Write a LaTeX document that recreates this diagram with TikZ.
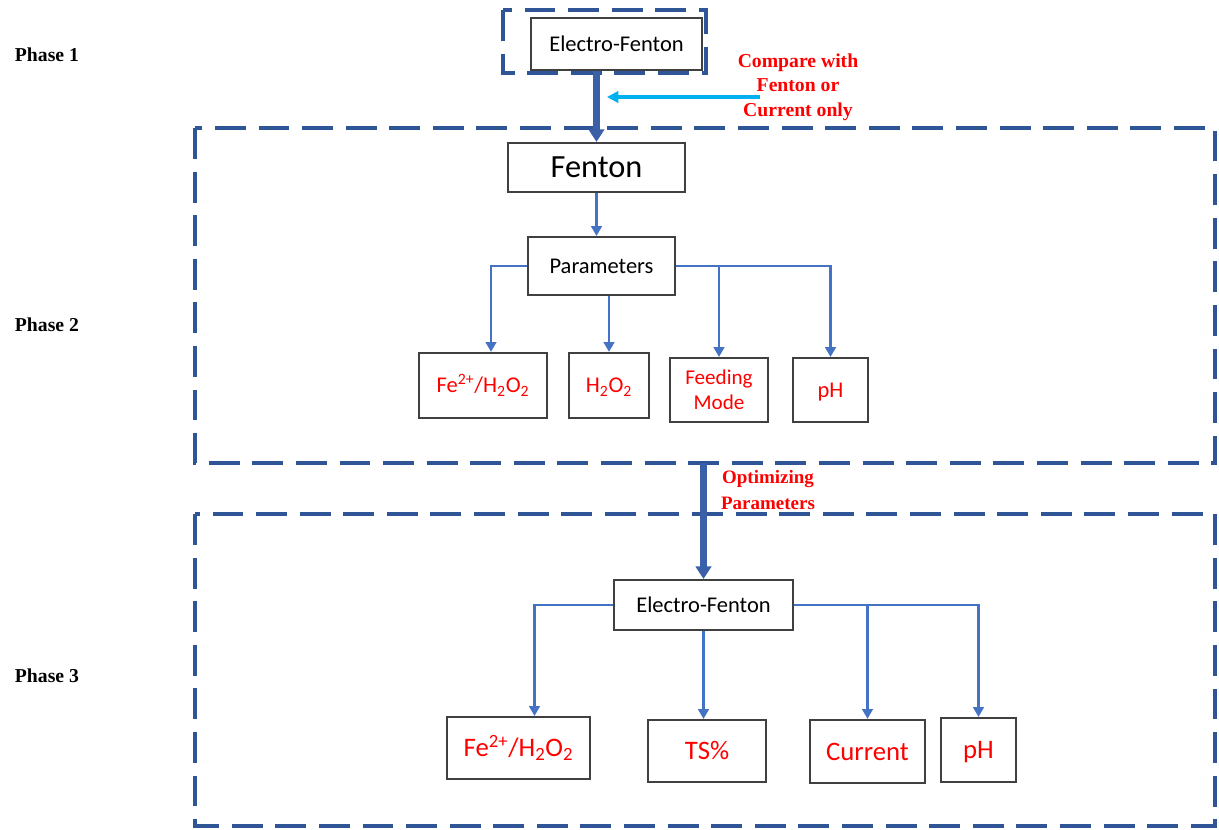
\documentclass[tikz,border=0pt]{standalone}
\usepackage{fontspec}
\setmainfont{Liberation Serif}
\newfontfamily\calibri{Carlito}
\usetikzlibrary{arrows.meta}
\definecolor{frameblue}{HTML}{2F5597}
\definecolor{linkblue}{HTML}{4472C4}
\definecolor{cmpcyan}{HTML}{00B0F0}
\definecolor{boxgray}{HTML}{404040}
\definecolor{txtred}{HTML}{FF0000}
\begin{document}
\begin{tikzpicture}[x=0.025cm,y=-0.025cm,
    phasebox/.style={draw=frameblue,line width=2.2pt,dash pattern=on 22pt off 9pt},
    box/.style={draw=boxgray,line width=1.4pt,fill=white,inner sep=0pt,font=\calibri},
    redsmall/.style={text=txtred,align=center,text height=13.5pt,text depth=3pt,font=\calibri\fontsize{16}{19}\selectfont},
    redbig/.style={text=txtred,align=center,text height=16pt,text depth=3.5pt,font=\calibri\fontsize{19}{23}\selectfont},
    link/.style={draw=linkblue,line width=2.1pt,-{Triangle[length=7pt,width=7.5pt]}},
    bigarrow/.style={draw=linkblue!85!black,line width=4.5pt,-{Triangle[length=9pt,width=11pt]}},
    phaselabel/.style={font=\fontsize{14}{17}\selectfont\bfseries,anchor=west}]
  \useasboundingbox (0,0) rectangle (1219,830);
  % phase frames
  \draw[phasebox] (503,10) rectangle (706,73);
  \draw[phasebox] (195,128) rectangle (1215,463);
  \draw[phasebox] (195,514) rectangle (1215,826);
  \node[phaselabel] (ph1) at (10,55) {Phase 1};
  \node[phaselabel] (ph2) at (10,325) {Phase 2};
  \node[phaselabel] (ph3) at (10,676) {Phase 3};
  % phase 1 and 2
  \node[box,minimum width=4.28cm,minimum height=1.3cm,font=\calibri\fontsize{16}{19}\selectfont] (ef1) at (616.5,44) {Electro-Fenton};
  \node[box,minimum width=4.43cm,minimum height=1.23cm,font=\calibri\fontsize{23}{27}\selectfont] (fenton) at (596.5,167.5) {Fenton};
  \node[box,minimum width=3.68cm,minimum height=1.45cm,font=\calibri\fontsize{16}{19}\selectfont] (params) at (601.5,266) {Parameters};
  \node[box,redsmall,minimum width=3.2cm,minimum height=1.63cm] (p2fe) at (483,385.5) {Fe\textsuperscript{2+}/H\textsubscript{2}O\textsubscript{2}};
  \node[box,redsmall,minimum width=2cm,minimum height=1.63cm] (p2h) at (609,385.5) {H\textsubscript{2}O\textsubscript{2}};
  \node[box,text=txtred,align=center,minimum width=2.45cm,minimum height=1.6cm,font=\calibri\fontsize{15}{18}\selectfont] (p2feed) at (719,390) {Feeding\\Mode};
  \node[box,redsmall,minimum width=1.88cm,minimum height=1.6cm] (p2ph) at (830.5,390) {pH};
  \node[text=txtred,align=center,font=\fontsize{14}{17.5}\selectfont\bfseries] (cmp) at (798,87) {Compare with\\Fenton or\\Current only};
  \coordinate (cmpstart) at (760,97);
  \coordinate (cmpend) at (607,97);
  \draw[bigarrow] (ef1.south -| fenton.north) -- (fenton.north);
  \draw[draw=cmpcyan,line width=2.2pt,-{Triangle[length=8pt,width=8pt]}] (cmpstart) -- (cmpend);
  \draw[link] (fenton.south) -- (fenton.south |- params.north);
  \draw[link] (params.west) -| ([xshift=0.2cm]p2fe.north);
  \draw[link] (params.south -| p2h.north) -- (p2h.north);
  \draw[link] (params.east) -| (p2feed.north);
  \draw[link] (params.east) -| (p2ph.north);
  % phase 3
  \node[box,minimum width=4.48cm,minimum height=1.25cm,font=\calibri\fontsize{16}{19}\selectfont] (ef2) at (703.5,605) {Electro-Fenton};
  \node[box,redbig,minimum width=3.58cm,minimum height=1.55cm] (p3fe) at (518.5,748) {Fe\textsuperscript{2+}/H\textsubscript{2}O\textsubscript{2}};
  \node[box,redbig,minimum width=2.95cm,minimum height=1.55cm] (p3ts) at (707,751) {TS\%};
  \node[box,redbig,minimum width=2.88cm,minimum height=1.58cm] (p3cur) at (867.5,751.5) {Current};
  \node[box,redbig,minimum width=1.88cm,minimum height=1.6cm] (p3ph) at (978.5,750) {pH};
  \node[text=txtred,align=center,font=\fontsize{13.5}{18}\selectfont\bfseries] (opt) at (768,490) {Optimizing\\Parameters};
  \coordinate (p2bottom) at (706,463);
  \draw[bigarrow] (ef2.north |- p2bottom) -- (ef2.north);
  \draw[link] (ef2.west) -| ([xshift=0.4cm]p3fe.north);
  \draw[link] (ef2.south) -- (ef2.south |- p3ts.north);
  \draw[link] (ef2.east) -| (p3cur.north);
  \draw[link] (ef2.east) -| (p3ph.north);
\end{tikzpicture}
\end{document}
